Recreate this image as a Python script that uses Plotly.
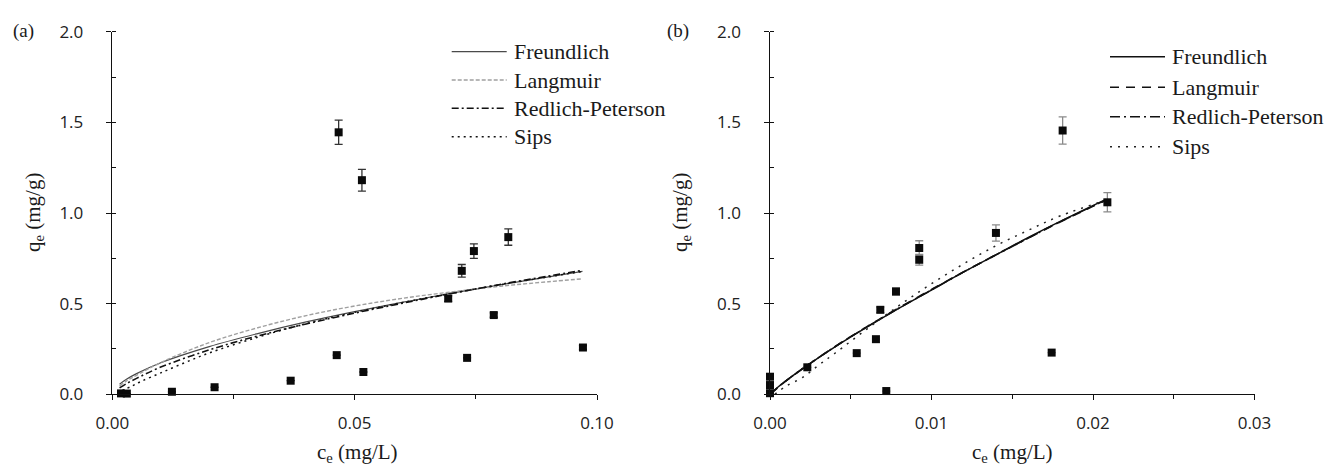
import plotly.graph_objects as go

W, H = 1325, 468

# ---------- panel (a): measured points ----------
ce_a = [0.0018, 0.0030, 0.0123, 0.0211, 0.0368, 0.0463, 0.0467, 0.0515, 0.0518,
        0.0693, 0.0721, 0.0732, 0.0746, 0.0787, 0.0817, 0.0971]
qe_a = [0.005, 0.004, 0.014, 0.039, 0.075, 0.216, 1.445, 1.181, 0.123,
        0.528, 0.681, 0.201, 0.790, 0.437, 0.867, 0.258]
err_a = [0, 0, 0, 0, 0, 0, 0.067, 0.060, 0,
         0.015, 0.035, 0, 0.040, 0.012, 0.045, 0.010]

# ---------- panel (a): fitted isotherms ----------
cfit_a = [0.0015, 0.003, 0.005, 0.01, 0.02, 0.03, 0.04, 0.05, 0.06, 0.07, 0.08, 0.09, 0.097]
freundlich_a = [0.056, 0.084, 0.114, 0.174, 0.263, 0.335, 0.399, 0.456, 0.508, 0.558, 0.604, 0.648, 0.678]
langmuir_a = [0.045, 0.075, 0.105, 0.175, 0.285, 0.367, 0.434, 0.487, 0.530, 0.565, 0.596, 0.621, 0.637]
redlich_a = [0.035, 0.060, 0.088, 0.150, 0.245, 0.322, 0.388, 0.448, 0.503, 0.556, 0.606, 0.652, 0.684]
cfit_sips_a = [0.002, 0.004, 0.006, 0.01, 0.015, 0.02, 0.03, 0.04, 0.05, 0.06, 0.07, 0.08, 0.09, 0.097]
sips_a = [0.020, 0.045, 0.072, 0.118, 0.175, 0.228, 0.315, 0.390, 0.452, 0.507, 0.557, 0.604, 0.648, 0.678]

# ---------- panel (b): measured points ----------
ce_b = [0.0, 0.0, 0.0, 0.00231, 0.00537, 0.00656, 0.00683, 0.0072, 0.0078,
        0.00924, 0.00924, 0.01399, 0.01744, 0.01812, 0.02089]
qe_b = [0.097, 0.051, 0.006, 0.149, 0.227, 0.304, 0.466, 0.018, 0.567,
        0.742, 0.807, 0.890, 0.230, 1.455, 1.059]
err_b = [0, 0, 0, 0, 0, 0, 0.015, 0, 0.020,
         0.030, 0.040, 0.045, 0, 0.075, 0.053]

# ---------- panel (b): fitted isotherms ----------
cfit_b = [0.0, 0.0005, 0.001, 0.002, 0.004, 0.006, 0.008, 0.010, 0.012, 0.014, 0.016, 0.018, 0.0208]
freundlich_b = [0.0, 0.040, 0.075, 0.140, 0.260, 0.370, 0.475, 0.575, 0.675, 0.770, 0.865, 0.955, 1.075]
langmuir_b = [0.0, 0.038, 0.074, 0.140, 0.262, 0.373, 0.478, 0.578, 0.676, 0.770, 0.862, 0.952, 1.070]
redlich_b = [0.0, 0.039, 0.075, 0.141, 0.261, 0.372, 0.476, 0.576, 0.675, 0.769, 0.862, 0.953, 1.072]
cfit_sips_b = [0.0003, 0.001, 0.002, 0.003, 0.004, 0.006, 0.008, 0.010, 0.012, 0.014, 0.016, 0.018, 0.0208]
sips_b = [0.0, 0.045, 0.092, 0.160, 0.225, 0.360, 0.490, 0.610, 0.720, 0.820, 0.905, 0.985, 1.070]

model_names = ["Freundlich", "Langmuir", "Redlich-Peterson", "Sips"]

# line styles per panel, in model order
styles_a = [
    dict(color="#4a4a4a", width=1.2, dash="solid"),
    dict(color="#a0a0a0", width=1.4, dash="4px,2px"),
    dict(color="#111111", width=1.6, dash="7px,3px,2px,3px"),
    dict(color="#111111", width=1.5, dash="2px,4px"),
]
styles_b = [
    dict(color="#111111", width=1.5, dash="solid"),
    dict(color="#111111", width=1.6, dash="9px,7px"),
    dict(color="#111111", width=1.6, dash="10px,4px,2px,4px"),
    dict(color="#222222", width=1.5, dash="2px,6px"),
]

SANS = "Open Sans"
SERIF = "Liberation Serif"

fig = go.Figure()

curves_a = [(cfit_a, freundlich_a), (cfit_a, langmuir_a), (cfit_a, redlich_a), (cfit_sips_a, sips_a)]
curves_b = [(cfit_b, freundlich_b), (cfit_b, langmuir_b), (cfit_b, redlich_b), (cfit_sips_b, sips_b)]

for (cx, cy), name, st in zip(curves_a, model_names, styles_a):
    fig.add_trace(go.Scatter(x=cx, y=cy, mode="lines", name=name, line=dict(shape="spline", **st),
                             xaxis="x", yaxis="y", showlegend=False, cliponaxis=False))
for (cx, cy), name, st in zip(curves_b, model_names, styles_b):
    fig.add_trace(go.Scatter(x=cx, y=cy, mode="lines", name=name, line=dict(shape="spline", **st),
                             xaxis="x2", yaxis="y2", showlegend=False, cliponaxis=False))

fig.add_trace(go.Scatter(
    x=ce_a, y=qe_a, mode="markers", xaxis="x", yaxis="y", showlegend=False, cliponaxis=False,
    marker=dict(symbol="square", size=8, color="#0a0a0a"),
    error_y=dict(type="data", array=err_a, visible=True, color="#333333", thickness=1.3, width=4),
))
fig.add_trace(go.Scatter(
    x=ce_b, y=qe_b, mode="markers", xaxis="x2", yaxis="y2", showlegend=False, cliponaxis=False,
    marker=dict(symbol="square", size=8, color="#0a0a0a"),
    error_y=dict(type="data", array=err_b, visible=True, color="#8a8a8a", thickness=1.3, width=4),
))

# plot area placement (pixels)
AX_LEFT_A, AX_RIGHT_A = 112.3, 597.0
AX_LEFT_B, AX_RIGHT_B = 770.0, 1254.5
AX_TOP, AX_BOTTOM = 31.7, 394.3


def px(x):
    return x / W


def py(y):
    return 1 - y / H


tickfont = dict(family=SANS, size=17, color="#222222")
common_x = dict(showline=True, linecolor="#111111", linewidth=1.3, ticks="outside", ticklen=5,
                tickcolor="#111111", tickwidth=1.2, showgrid=False, zeroline=False,
                tickfont=tickfont, automargin=False, ticklabelstandoff=8, fixedrange=True)
# figure spaces after the y labels keep them clear of the axis line
common_y = dict(showline=True, linecolor="#111111", linewidth=1.3, ticks="outside", ticklen=5,
                tickcolor="#111111", tickwidth=1.2, showgrid=False, zeroline=False,
                tickfont=tickfont, automargin=False, fixedrange=True,
                ticksuffix="\u2007\u2007",
                range=[0, 2.0], tick0=0, dtick=0.5, tickformat=".1f",
                minor=dict(ticks="inside", ticklen=4, tickcolor="#111111", dtick=0.25, showgrid=False))

fig.update_layout(
    width=W, height=H,
    margin=dict(l=0, r=0, t=0, b=0),
    paper_bgcolor="white", plot_bgcolor="white",
    showlegend=False,
    xaxis=dict(domain=[px(AX_LEFT_A), px(AX_RIGHT_A)], range=[0, 0.1], tick0=0, dtick=0.05,
               tickformat=".2f", anchor="y",
               minor=dict(ticks="outside", ticklen=4, tickcolor="#111111", dtick=0.025, showgrid=False),
               **common_x),
    yaxis=dict(domain=[py(AX_BOTTOM), py(AX_TOP)], anchor="x", **common_y),
    xaxis2=dict(domain=[px(AX_LEFT_B), px(AX_RIGHT_B)], range=[0, 0.03], tick0=0, dtick=0.01,
                tickformat=".2f", anchor="y2",
                minor=dict(ticks="outside", ticklen=4, tickcolor="#111111", dtick=0.005, showgrid=False),
                **common_x),
    yaxis2=dict(domain=[py(AX_BOTTOM), py(AX_TOP)], anchor="x2", **common_y),
)

title_font = dict(family=SERIF, size=21, color="#1a1a1a")
annotations = [
    dict(text="(a)", x=px(23), y=py(31), font=dict(family=SERIF, size=19, color="#1a1a1a")),
    dict(text="(b)", x=px(678), y=py(31), font=dict(family=SERIF, size=19, color="#1a1a1a")),
    dict(text="q<sub>e</sub> (mg/g)", x=px(34), y=py(213), textangle=-90, font=title_font),
    dict(text="q<sub>e</sub> (mg/g)", x=px(681), y=py(213), textangle=-90, font=title_font),
    dict(text="c<sub>e</sub> (mg/L)", x=px(357), y=py(453), font=title_font),
    dict(text="c<sub>e</sub> (mg/L)", x=px(1012), y=py(453), font=title_font),
]
for a in annotations:
    a.update(xref="paper", yref="paper", showarrow=False, xanchor="center", yanchor="middle")

# legend keys drawn as short line samples next to the model names
legend_a = dict(x0=451.7, x1=506.7, tx=511.5, rows=[51.7, 80.0, 108.3, 136.7], styles=styles_a)
legend_b = dict(x0=1110.0, x1=1165.0, tx=1170.0, rows=[56.7, 87.3, 116.7, 146.7], styles=styles_b)
shapes = []
for lg in (legend_a, legend_b):
    for yrow, name, st in zip(lg["rows"], model_names, lg["styles"]):
        shapes.append(dict(type="line", xref="paper", yref="paper",
                           x0=px(lg["x0"]), x1=px(lg["x1"]), y0=py(yrow), y1=py(yrow),
                           line=dict(color=st["color"], width=st["width"], dash=st["dash"])))
        annotations.append(dict(text=name, xref="paper", yref="paper", x=px(lg["tx"]), y=py(yrow),
                                xanchor="left", yanchor="middle", showarrow=False,
                                font=dict(family=SERIF, size=22, color="#1a1a1a")))

fig.update_layout(annotations=annotations, shapes=shapes)

fig.write_html("out.html", config=dict(displayModeBar=False))
